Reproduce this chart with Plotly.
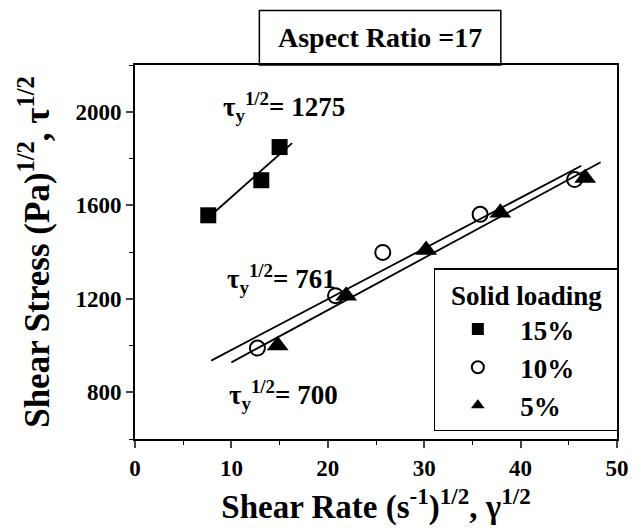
import numpy as np
import plotly.graph_objects as go

# ---- data ----
x15 = [7.6, 13.1, 15.0]
y15 = [1557, 1707, 1849]
x10 = [12.7, 20.8, 25.7, 35.8, 45.6]
y10 = [989, 1213, 1398, 1561, 1710]
x5 = [14.8, 21.9, 30.2, 37.9, 46.7]
y5 = [1000, 1213, 1409, 1568, 1717]

# x-extent over which each fitted line is drawn
span15 = [7.6, 16.3]
span10 = [7.9, 46.3]
span5 = [10.0, 48.3]

series_names = ["15%", "10%", "5%"]
yield_labels = ["1275", "761", "700"]
# positions of the yield-stress labels (data coords)
label_x = [8.9, 9.3, 9.5]
label_y = [2021, 1284, 790]

FONT = "Liberation Serif"
NB = "\u00a0"

fig = go.Figure()

def fit_line(xs, ys, span):
    m, b = np.polyfit(xs, ys, 1)
    xx = np.array(span)
    return xx, m * xx + b

for xs, ys, span in [(x15, y15, span15), (x10, y10, span10), (x5, y5, span5)]:
    lx, ly = fit_line(xs, ys, span)
    fig.add_trace(go.Scatter(x=lx, y=ly, mode="lines", showlegend=False,
                             line=dict(color="black", width=1.8), hoverinfo="skip"))

fig.add_trace(go.Scatter(x=x15, y=y15, mode="markers", name=series_names[0],
                         marker=dict(symbol="square", size=16, color="black")))
fig.add_trace(go.Scatter(x=x10, y=y10, mode="markers", name=series_names[1],
                         marker=dict(symbol="circle-open", size=15, color="black",
                                     line=dict(width=2, color="black"))))
fig.add_trace(go.Scatter(x=x5, y=y5, mode="markers", name=series_names[2],
                         marker=dict(symbol="triangle-up", size=19, color="black")))

ann = []
for lab, lx, ly in zip(yield_labels, label_x, label_y):
    ann.append(dict(x=lx, y=ly, xref="x", yref="y", xanchor="left", yanchor="middle",
                    text="τ<sub>y</sub><sup>1/2</sup>= " + lab, showarrow=False,
                    font=dict(family=FONT, size=27, color="black", weight="bold")))

ann.append(dict(x=0.5085, y=1.074, xref="paper", yref="paper", showarrow=False,
                xanchor="center", yanchor="middle",
                text="Aspect Ratio =17",
                font=dict(family=FONT, size=28, color="black", weight="bold")))

fig.update_layout(
    width=641, height=531,
    margin=dict(l=135, r=15, t=65, b=89),
    paper_bgcolor="white", plot_bgcolor="white",
    font=dict(family=FONT, color="black", weight="bold"),
    annotations=ann,
    shapes=[dict(type="rect", xref="paper", yref="paper", x0=0.258, x1=0.759,
                 y0=1.0, y1=1.146, line=dict(color="black", width=1.5))],
    legend=dict(x=0.620, y=0.456, xanchor="left", yanchor="top",
                bordercolor="black", borderwidth=1.5, bgcolor="white",
                itemsizing="constant", itemwidth=75,
                title=dict(text=NB * 2 + "Solid loading" + NB * 2, side="top center",
                           font=dict(family=FONT, size=27, weight="bold")),
                font=dict(family=FONT, size=27, weight="bold")),
    xaxis=dict(range=[0, 50], dtick=10, tick0=0, ticks="outside", ticklen=7, tickwidth=1.5,
               showline=True, mirror=True, linewidth=2, linecolor="black",
               showgrid=False, zeroline=False,
               minor=dict(dtick=5, ticks="outside", ticklen=4, tickwidth=1.2, tickcolor="black"),
               tickfont=dict(family=FONT, size=23, weight="bold"),
               title=dict(text="Shear Rate (s<sup>-1</sup>)<sup>1/2</sup>, γ<sup>1/2</sup>",
                          font=dict(family=FONT, size=33, weight="bold"))),
    yaxis=dict(range=[600, 2200], tickvals=[800, 1200, 1600, 2000], ticks="outside",
               ticklen=7, tickwidth=1.5,
               showline=True, mirror=True, linewidth=2, linecolor="black",
               showgrid=False, zeroline=False,
               minor=dict(dtick=200, ticks="outside", ticklen=4, tickwidth=1.2, tickcolor="black"),
               tickfont=dict(family=FONT, size=23, weight="bold"),
               title=dict(text="Shear Stress (Pa)<sup>1/2</sup>, τ<sup>1/2</sup>",
                          font=dict(family=FONT, size=35, weight="bold"))),
)

fig.write_html("out.html")
